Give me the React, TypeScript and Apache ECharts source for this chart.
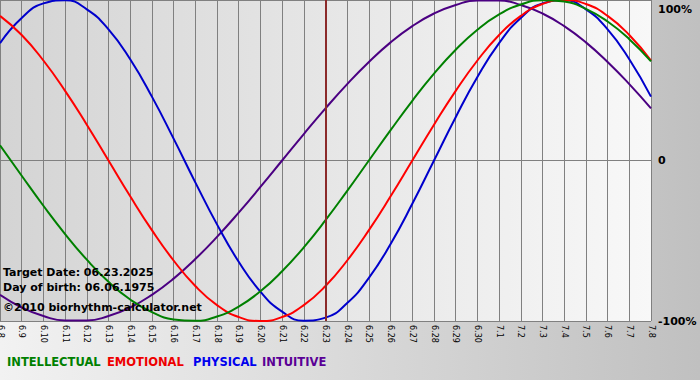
import React, { useEffect, useRef } from "react";
import * as echarts from "echarts";

const days = [
  "6.8", "6.9", "6.10", "6.11", "6.12", "6.13", "6.14", "6.15", "6.16", "6.17",
  "6.18", "6.19", "6.20", "6.21", "6.22", "6.23", "6.24", "6.25", "6.26", "6.27",
  "6.28", "6.29", "6.30", "7.1", "7.2", "7.3", "7.4", "7.5", "7.6", "7.7", "7.8",
];

const intellectual = [
  9.5, -9.5, -28.2, -45.8, -61.8, -75.6, -86.6, -94.5, -99.0, -99.9,
  -97.2, -91.0, -81.5, -69.0, -54.1, -37.2, -18.9, 0, 18.9, 37.2,
  54.1, 69.0, 81.5, 91.0, 97.2, 99.9, 99.0, 94.5, 86.6, 75.6, 61.8,
];

const emotional = [
  90.1, 78.2, 62.3, 43.4, 22.3, 0, -22.3, -43.4, -62.3, -78.2,
  -90.1, -97.5, -100, -97.5, -90.1, -78.2, -62.3, -43.4, -22.3, 0,
  22.3, 43.4, 62.3, 78.2, 90.1, 97.5, 100, 97.5, 90.1, 78.2, 62.3,
];

const physical = [
  73.1, 88.8, 97.9, 99.8, 94.2, 81.7, 63.1, 39.8, 13.6, -13.6,
  -39.8, -63.1, -81.7, -94.2, -99.8, -97.9, -88.8, -73.1, -52.0, -27.0,
  0, 27.0, 52.0, 73.1, 88.8, 97.9, 99.8, 94.2, 81.7, 63.1, 39.8,
];

const intuitive = [
  -83.7, -91.6, -96.9, -99.7, -99.7, -96.9, -91.6, -83.7, -73.6, -61.4,
  -47.6, -32.5, -16.5, 0, 16.5, 32.5, 47.6, 61.4, 73.6, 83.7,
  91.6, 96.9, 99.7, 99.7, 96.9, 91.6, 83.7, 73.6, 61.4, 47.6, 32.5,
];

const targetDay = "6.23";

const legendItems = [
  { name: "INTELLECTUAL", color: "#008000", x: 7 },
  { name: "EMOTIONAL", color: "#ee0000", x: 107 },
  { name: "PHYSICAL", color: "#0000ee", x: 193 },
  { name: "INTUITIVE", color: "#5a0096", x: 262 },
];

const infoLines = [
  { text: "Target Date: 06.23.2025", y: 272 },
  { text: "Day of birth: 06.06.1975", y: 287 },
  { text: "©2010 biorhythm-calculator.net", y: 307 },
];

export default function App() {
  const ref = useRef<HTMLDivElement>(null);

  useEffect(() => {
    if (!ref.current) return;
    const chart = echarts.init(ref.current, null, { renderer: "svg" });
    const lineSeries = (name: string, data: number[], color: string, extra: any = {}) => ({
      name,
      type: "line",
      data,
      smooth: true,
      symbol: "none",
      lineStyle: { color, width: 2 },
      itemStyle: { color },
      ...extra,
    });
    chart.setOption({
      animation: false,
      backgroundColor: new echarts.graphic.LinearGradient(0, 0, 1, 0, [
        { offset: 0, color: "#f2f2f2" },
        { offset: 1, color: "#c0c0c0" },
      ]),
      grid: {
        left: 0,
        top: 0,
        width: 651,
        height: 321,
        outerBoundsMode: "none",
        containLabel: false,
        show: true,
        borderWidth: 0,
        backgroundColor: new echarts.graphic.LinearGradient(0, 0, 1, 0, [
          { offset: 0, color: "#d4d4d4" },
          { offset: 1, color: "#f8f8f8" },
        ]),
      },
      xAxis: {
        type: "category",
        data: days,
        boundaryGap: false,
        axisLine: { show: true, lineStyle: { color: "#808080", width: 1 } },
        axisTick: { show: true, length: 3, interval: 0, lineStyle: { color: "#808080" } },
        axisLabel: {
          interval: 0,
          rotate: -90,
          margin: 4,
          fontSize: 8,
          fontFamily: "DejaVu Sans",
          color: "#000",
        },
        splitLine: { show: true, interval: 0, lineStyle: { color: "#808080", width: 1 } },
      },
      yAxis: {
        type: "value",
        position: "right",
        min: -100,
        max: 100,
        interval: 100,
        axisLine: { show: false },
        axisTick: { show: false },
        axisLabel: {
          margin: 7,
          fontSize: 11,
          fontWeight: "bold",
          fontFamily: "DejaVu Sans",
          color: "#000",
          padding: [4, 0, 0, 0],
          verticalAlignMaxLabel: "top",
          formatter: (v: number) => (v !== 0 ? `${v}%` : `${v}`),
        },
        splitLine: { show: true, lineStyle: { color: "#808080", width: 1 } },
      },
      series: [
        lineSeries("INTUITIVE", intuitive, "#4b0082"),
        lineSeries("PHYSICAL", physical, "#0000cc"),
        lineSeries("EMOTIONAL", emotional, "#ff0000"),
        lineSeries("INTELLECTUAL", intellectual, "#008000", {
          markLine: {
            silent: true,
            symbol: "none",
            label: { show: false },
            lineStyle: { color: "#8b2a2a", width: 2, type: "solid" },
            data: [{ xAxis: targetDay }],
          },
        }),
      ],
      graphic: [
        ...legendItems.map((l) => ({
          type: "text",
          x: l.x,
          y: 362,
          style: {
            text: l.name,
            fill: l.color,
            font: "bold 11.5px 'DejaVu Sans'",
            textVerticalAlign: "middle",
          },
          z: 10,
        })),
        ...infoLines.map((l) => ({
          type: "text",
          x: 3,
          y: l.y,
          style: {
            text: l.text,
            fill: "#000",
            font: "bold 11px 'DejaVu Sans'",
            textVerticalAlign: "middle",
          },
          z: 10,
        })),
      ],
    });
    return () => chart.dispose();
  }, []);

  return (
    <div
      ref={ref}
      style={{ position: "fixed", left: 0, top: 0, width: 700, height: 380 }}
    />
  );
}
